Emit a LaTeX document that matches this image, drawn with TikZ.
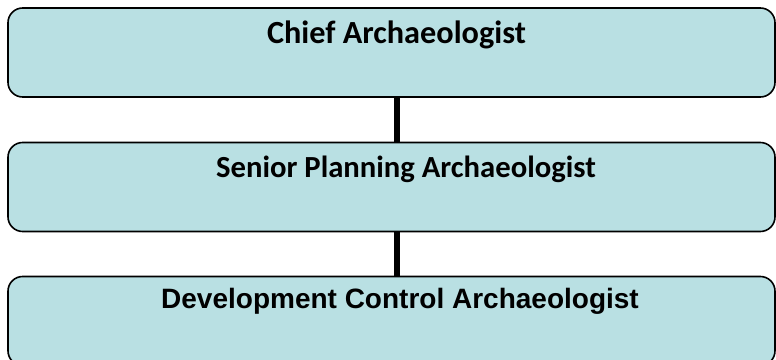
\documentclass[tikz,border=0pt]{standalone}
\usepackage{fontspec}
\newfontfamily\calibri{Carlito}
\newfontfamily\arial{Liberation Sans}
\definecolor{boxfill}{RGB}{185,224,227}
\begin{document}
\begin{tikzpicture}[x=0.75pt,y=-0.75pt,
  rolebox/.style={draw=black, line width=1.2pt, fill=boxfill, rounded corners=11pt,
    rectangle, inner sep=0pt, minimum width=767*0.75pt, minimum height=89*0.75pt},
  roletext/.style={anchor=base, inner sep=0pt, text=black},
  link/.style={line width=3.8pt, black}]
\useasboundingbox (0,0) rectangle (776,360);
% the three boxes
\node[rolebox] (chief)  at (391.5,52.5) {};
\node[rolebox] (senior) at (391.5,187)  {};
\node[rolebox] (devctl) at (391.5,321)  {};
% axis shared by the links
\coordinate (axis) at (397,0);
% titles
\node[roletext, font=\calibri\bfseries\fontsize{24.2}{28}\selectfont] (t1) at (396.5,44) {Chief Archaeologist};
\node[roletext, font=\calibri\bfseries\fontsize{23}{27}\selectfont] (t2) at (406,178) {Senior Planning Archaeologist};
\node[roletext, font=\arial\bfseries\fontsize{21}{24}\selectfont] (t3) at (400,308) {Development Control Archaeologist};
% links
\draw[link] (chief.south -| axis) -- (senior.north -| axis);
\draw[link] (senior.south -| axis) -- (devctl.north -| axis);
\end{tikzpicture}
\end{document}
